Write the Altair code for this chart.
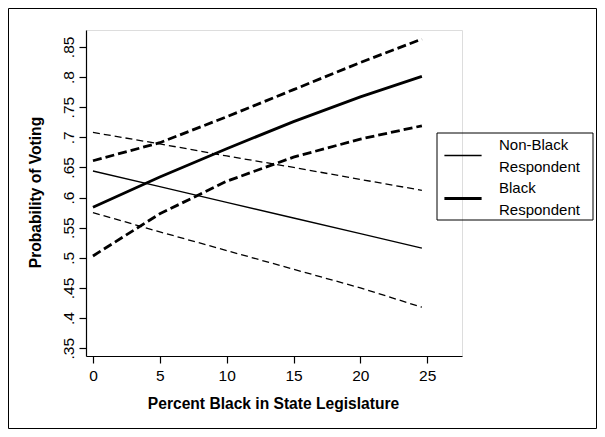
import altair as alt
import pandas as pd

# ---- data ----
x_pts = [0, 5, 10, 15, 20, 24.6]
black_mean = [0.584, 0.634, 0.681, 0.726, 0.767, 0.801]
black_upper = [0.661, 0.691, 0.734, 0.779, 0.824, 0.863]
black_lower = [0.503, 0.573, 0.627, 0.667, 0.697, 0.719]
nonblack_mean = [0.644, 0.618, 0.592, 0.566, 0.540, 0.516]
nonblack_upper = [0.708, 0.689, 0.669, 0.650, 0.630, 0.612]
nonblack_lower = [0.575, 0.543, 0.512, 0.481, 0.450, 0.418]
groups = ["Non-Black Respondent", "Black Respondent"]
y_ticks = [0.35, 0.4, 0.45, 0.5, 0.55, 0.6, 0.65, 0.7, 0.75, 0.8, 0.85]
x_ticks = [0, 5, 10, 15, 20, 25]

rows = []
for grp, series in [
    (groups[0], {"mean": nonblack_mean, "upper": nonblack_upper, "lower": nonblack_lower}),
    (groups[1], {"mean": black_mean, "upper": black_upper, "lower": black_lower}),
]:
    for band, vals in series.items():
        for xv, yv in zip(x_pts, vals):
            rows.append({"x": xv, "p": yv, "group": grp, "band": band})
df = pd.DataFrame(rows)

FONT = "Liberation Sans"
W, H = 376, 326

x_enc = alt.X(
    "x:Q",
    scale=alt.Scale(domain=[-0.52, 27.6], nice=False, zero=False),
    axis=alt.Axis(
        values=x_ticks, title="Percent Black in State Legislature",
        grid=False, tickSize=7, labelPadding=5, labelFontSize=15.5,
        titleFontSize=15.6, titleFontWeight="bold", titleX=187, titleY=52,
        titleBaseline="alphabetic", domainColor="black", tickColor="black",
        domainWidth=1.2, tickWidth=1.2, labelColor="black", titleColor="black",
        labelFont=FONT, titleFont=FONT,
    ),
)
y_enc = alt.Y(
    "p:Q",
    scale=alt.Scale(domain=[0.337, 0.878], nice=False, zero=False),
    axis=alt.Axis(
        values=y_ticks, title="Probability of Voting",
        labelExpr="replace(format(datum.value, '.2~f'), '0.', '.')",
        grid=False, tickSize=7, labelPadding=3, labelFontSize=15.5,
        labelAngle=-90, labelAlign="center", labelBaseline="bottom",
        titleFontSize=15.6, titleFontWeight="bold", titleX=-43, titleY=162,
        titleAngle=270, titleAlign="center", titleBaseline="bottom",
        domainColor="black", tickColor="black", domainWidth=1.2, tickWidth=1.2,
        labelColor="black", titleColor="black", labelFont=FONT, titleFont=FONT,
    ),
)

base = alt.Chart(df)

means = base.transform_filter(alt.datum.band == "mean").mark_line(color="black").encode(
    x=x_enc, y=y_enc,
    strokeWidth=alt.StrokeWidth(
        "group:N",
        scale=alt.Scale(domain=groups, range=[1.3, 2.8]),
        legend=alt.Legend(
            title=None, orient="none", legendX=369.5, legendY=107,
            symbolType="M-3.1,1.83L3.1,1.83", symbolSize=144, symbolStrokeColor="black",
            labelExpr="split(datum.label, ' ')", labelFontSize=15,
            labelFont=FONT, labelColor="black", labelOffset=28.5,
            rowPadding=5, padding=0, labelLimit=300,
        ),
    ),
)

ci_nb = base.transform_filter(
    (alt.datum.band != "mean") & (alt.datum.group == groups[0])
).mark_line(color="black", strokeWidth=1.3, strokeDash=[7, 4]).encode(
    x=x_enc, y=y_enc, detail="band:N"
)
ci_b = base.transform_filter(
    (alt.datum.band != "mean") & (alt.datum.group == groups[1])
).mark_line(color="black", strokeWidth=2.8, strokeDash=[9, 4]).encode(
    x=x_enc, y=y_enc, detail="band:N"
)

one = alt.Data(values=[{"k": 1}])
frame = alt.Chart(one).mark_rect(fill="transparent", stroke="black", strokeWidth=1).encode(
    x=alt.value(-77.5), x2=alt.value(510.5), y=alt.value(-21.5), y2=alt.value(398.5)
)
legend_box = alt.Chart(one).mark_rect(fill="transparent", stroke="black", strokeWidth=1).encode(
    x=alt.value(351), x2=alt.value(507), y=alt.value(103), y2=alt.value(190)
)

chart = alt.layer(ci_nb, ci_b, means, legend_box, frame).properties(
    width=W, height=H,
    autosize=alt.AutoSizeParams(type="none"),
    padding={"left": 78, "top": 22, "right": 135, "bottom": 73},
).configure_view(strokeWidth=0).configure(
    background="white",
    style={"guide-label": {"lineHeight": 22}},
)

chart.save("out.html", embed_options={"renderer": "svg", "actions": False})
